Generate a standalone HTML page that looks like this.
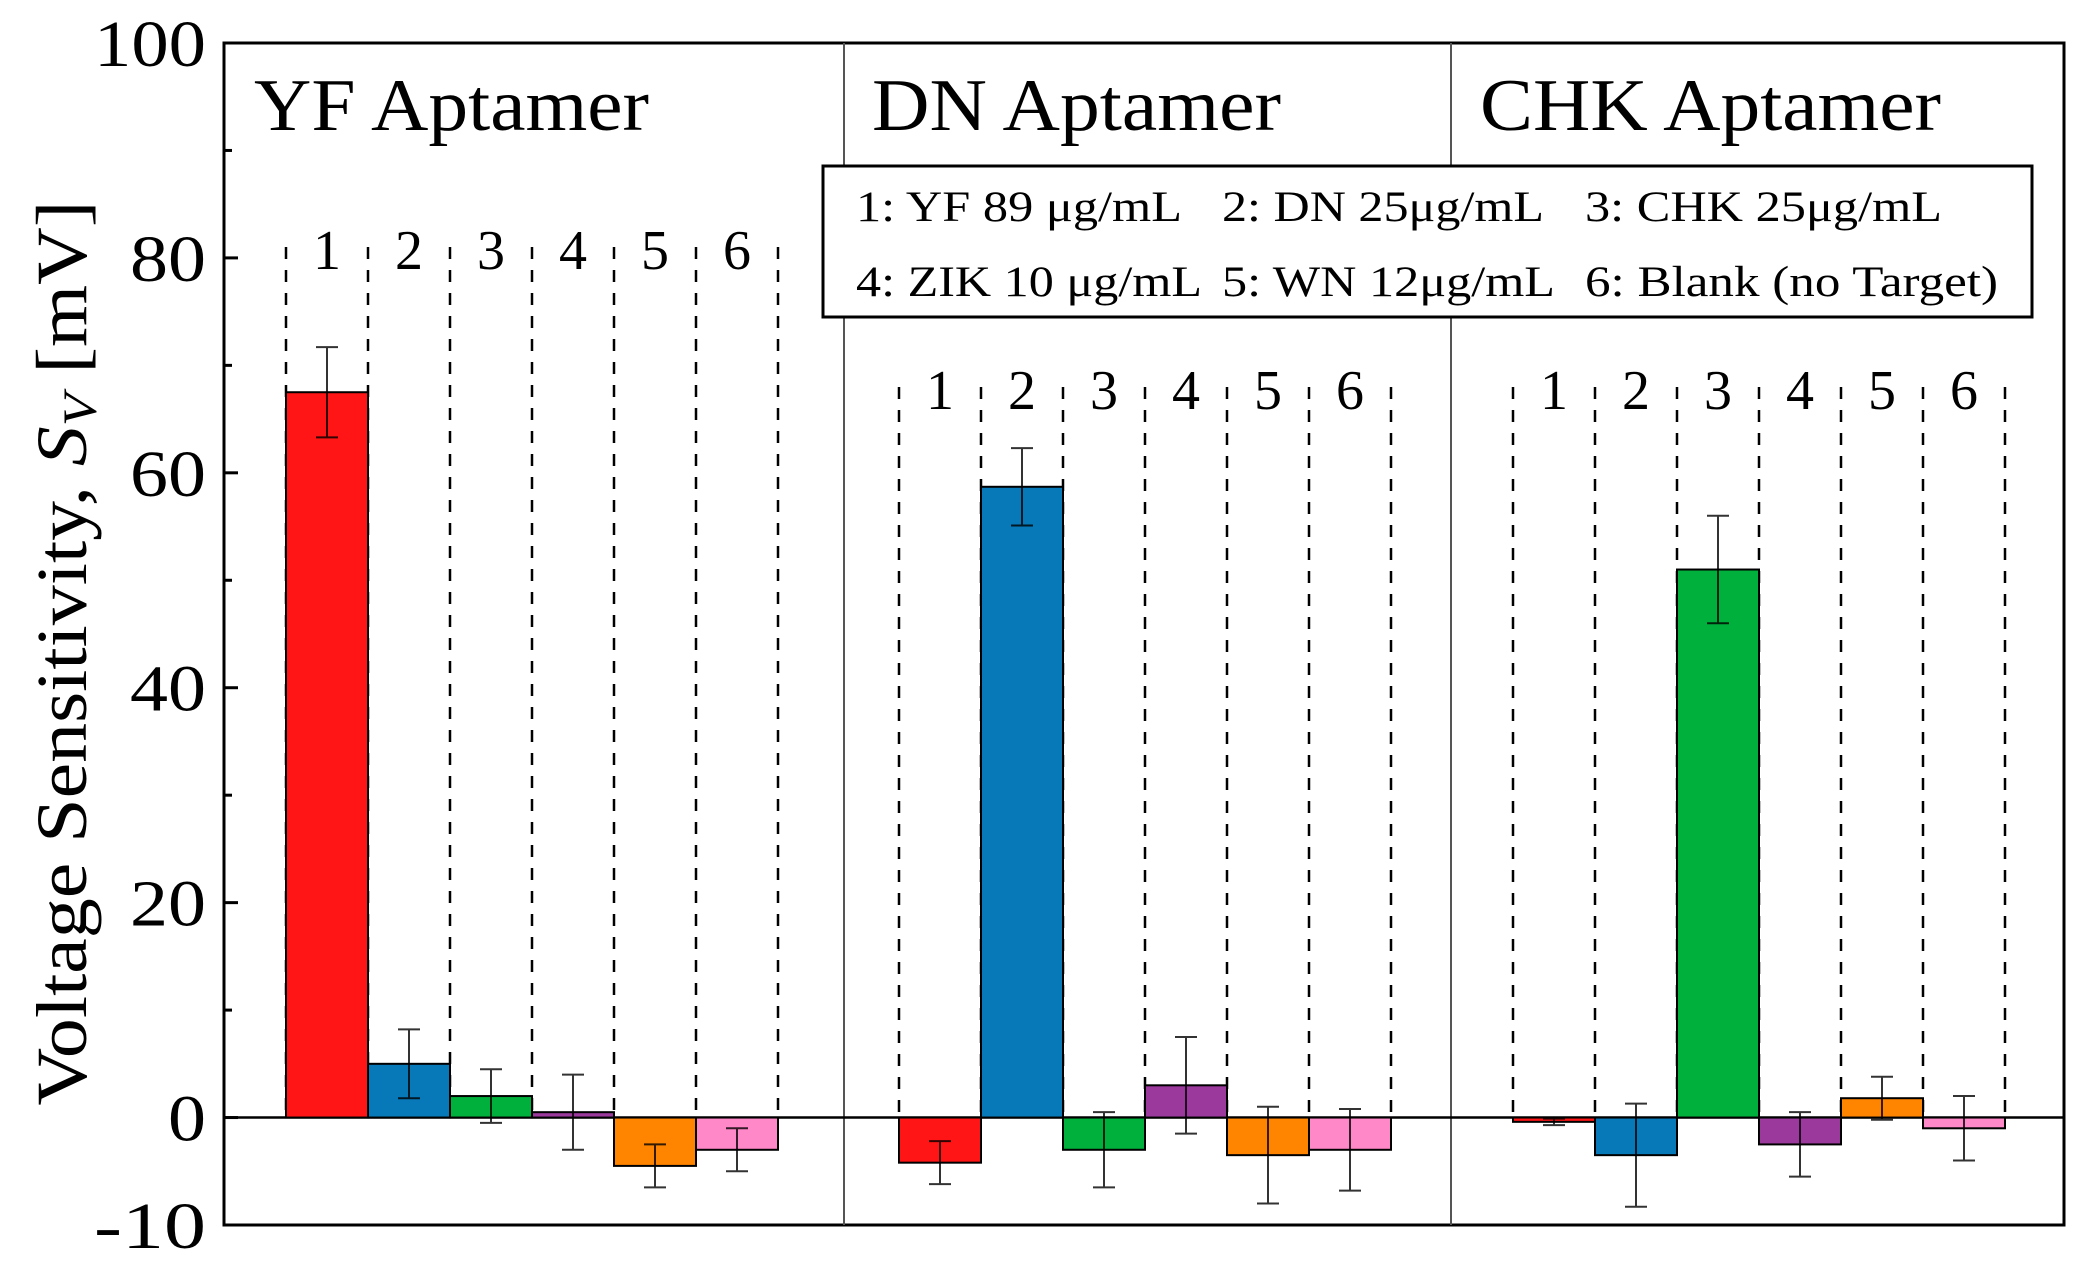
<!DOCTYPE html>
<html><head><meta charset="utf-8"><style>
html,body{margin:0;padding:0;background:#fff}
svg{display:block}
text{font-family:"Liberation Serif",serif;fill:#000}
</style></head><body>
<svg id="chart" width="2088" height="1288" viewBox="0 0 2088 1288" xmlns="http://www.w3.org/2000/svg">
<g id="plot"></g>
</svg>
<script>
const panels = ["YF Aptamer", "DN Aptamer", "CHK Aptamer"];
const categories = ["1", "2", "3", "4", "5", "6"];
const yfValues = [67.5, 5, 2, 0.5, -4.5, -3];
const yfErrors = [4.2, 3.2, 2.5, 3.5, 2, 2];
const dnValues = [-4.2, 58.7, -3, 3, -3.5, -3];
const dnErrors = [2, 3.6, 3.5, 4.5, 4.5, 3.8];
const chkValues = [-0.4, -3.5, 51, -2.5, 1.8, -1];
const chkErrors = [0.3, 4.8, 5, 3, 2, 3];
const yTicks = [-10, 0, 20, 40, 60, 80, 100];
const legendItems = ["1: YF 89 μg/mL", "2: DN 25μg/mL", "3: CHK 25μg/mL", "4: ZIK 10 μg/mL", "5: WN 12μg/mL", "6: Blank (no Target)"];

const colors = ["#ff1515", "#0779b8", "#00b03c", "#9b3a9c", "#ff8400", "#ff88c8"];
const NS = "http://www.w3.org/2000/svg";
const g = document.getElementById("plot");
const L = 224, R = 2064, T = 43, B = 1225;
const yMin = -10, yMax = 100;
const y = v => B - (v - yMin) / (yMax - yMin) * (B - T);
const groupStart = [286, 899, 1513], barW = 82;
const x = (p, i) => groupStart[p] + i * barW;
function el(tag, attrs, txt) {
  const e = document.createElementNS(NS, tag);
  for (const k in attrs) e.setAttribute(k, attrs[k]);
  if (txt !== undefined) e.textContent = txt;
  g.appendChild(e);
  return e;
}
e = el("rect", {x: L, y: T, width: R - L, height: B - T, fill: "none", stroke: "#000", "stroke-width": 3});


[844, 1451].forEach(dx => {
  const d = el("line", {x1: dx, x2: dx, y1: T, y2: B, stroke: "#555", "stroke-width": 2});
  
  
});
yTicks.forEach(v => {
  const t = el("line", {x1: L, x2: L + 14, y1: y(v), y2: y(v), stroke: "#000", "stroke-width": 3});
  
  
  const s = String(v);
  const w = s === "0" ? 38 : (s.length === 2 ? 76 : 112);
  const lb = el("text", {x: L - 18, y: y(v) + 23, "font-size": 66, "text-anchor": "end", textLength: w, lengthAdjust: "spacingAndGlyphs"}, s);
  
  
});
for (let v = 10; v < 100; v += 20) {
  const t = el("line", {x1: L, x2: L + 8, y1: y(v), y2: y(v), stroke: "#000", "stroke-width": 3});
  
  
}
e = el("line", {x1: L, x2: R, y1: y(0), y2: y(0), stroke: "#000", "stroke-width": 2.5});


e = el("text", {transform: "translate(86,653) rotate(-90)", "font-size": 72, "text-anchor": "middle", textLength: 905, lengthAdjust: "spacingAndGlyphs"});
e.innerHTML = 'Voltage Sensitivity, <tspan font-style="italic">S</tspan><tspan font-style="italic" font-size="48" dy="10">V</tspan><tspan dy="-10"> [mV]</tspan>';



const vals = [yfValues, dnValues, chkValues], errs = [yfErrors, dnErrors, chkErrors];
const dashTop = [247, 387, 387];
const titleW = [395, 409, 461];
panels.forEach((name, p) => {
  const t = el("text", {x: [254, 872, 1480][p], y: 130, "font-size": 74, textLength: titleW[p], lengthAdjust: "spacingAndGlyphs"}, name);
  
  
  for (let i = 0; i <= 6; i++) {
    const d = el("line", {x1: x(p, i), x2: x(p, i), y1: dashTop[p], y2: y(0), stroke: "#000", "stroke-width": 2.5, "stroke-dasharray": "12,11"});
    
    
  }
  categories.forEach((c, i) => {
    const cl = el("text", {x: x(p, i) + barW / 2, y: dashTop[p] + 22, "font-size": 56, "text-anchor": "middle"}, c);
    
    
    const v = vals[p][i], er = errs[p][i];
    const b = el("rect", {x: x(p, i), y: Math.min(y(v), y(0)), width: barW, height: Math.abs(y(v) - y(0)), fill: colors[i], stroke: "#000", "stroke-width": 2});
    
    
    const cx = x(p, i) + barW / 2;
    const eb = el("path", {d: `M${cx},${y(v + er)}V${y(v - er)}M${cx - 11},${y(v + er)}h22M${cx - 11},${y(v - er)}h22`, stroke: "#000", "stroke-width": 2, fill: "none", opacity: 0.8});
    
    
  });
});
e = el("rect", {x: 823, y: 166, width: 1209, height: 151, fill: "#fff", stroke: "#000", "stroke-width": 3});


const lx = [856, 1222, 1585], ly = [221, 296];
const legW = [326, 322, 357, 346, 333, 413];
legendItems.forEach((s, i) => {
  const t = el("text", {x: lx[i % 3], y: ly[Math.floor(i / 3)], "font-size": 43, textLength: legW[i], lengthAdjust: "spacingAndGlyphs"}, s);
  
  
});
</script>
</body></html>
